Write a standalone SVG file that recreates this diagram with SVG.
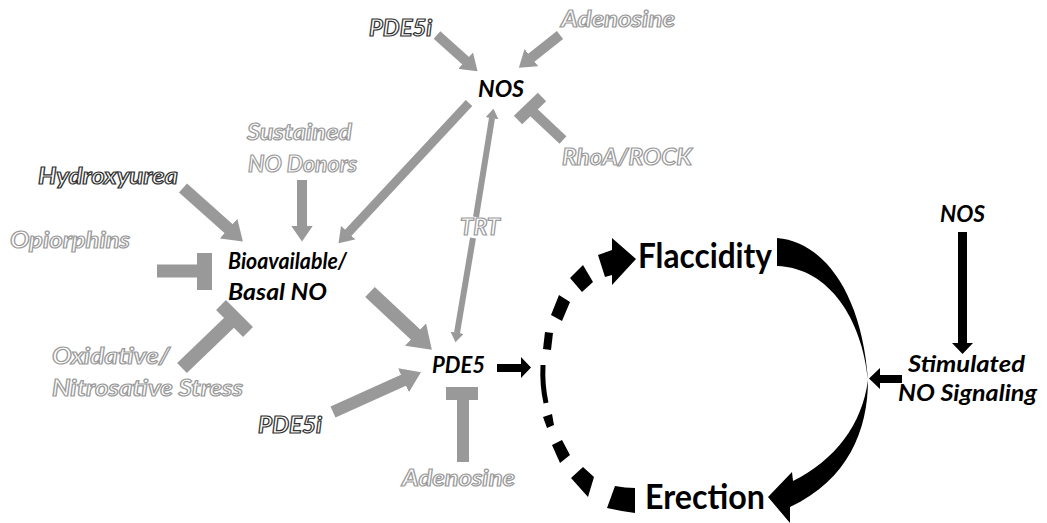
<svg xmlns="http://www.w3.org/2000/svg" width="1047" height="523" viewBox="0 0 1047 523">
<style>
.lbl{font-family:Lato,"Liberation Sans",sans-serif;font-weight:bold;font-style:italic;font-size:23px;fill:#000}
.og{font-family:Lato,"Liberation Sans",sans-serif;font-weight:bold;font-style:italic;font-size:23px;fill:#fff;stroke:#9a9a9a;stroke-width:1.2}
.od{font-family:Lato,"Liberation Sans",sans-serif;font-weight:bold;font-style:italic;font-size:23px;fill:#fff;stroke:#333;stroke-width:1.2}
.big{font-family:Lato,"Liberation Sans",sans-serif;font-weight:bold;font-size:34px;fill:#000}
.ga{stroke:#999;fill:none;marker-end:url(#gh)}
.gt{stroke:#999;fill:none}
.blk{fill:#000}
</style>
<defs>
<marker id="gh" viewBox="0 0 16 22" markerWidth="1.6" markerHeight="2.2" refX="0.5" refY="11" orient="auto-start-reverse" markerUnits="strokeWidth">
<path d="M0,0 L16,11 L0,22 Z" fill="#999"/>
</marker>
</defs>
<rect width="1047" height="523" fill="#fff"/>
<g id="connectors">
<line class="ga" x1="437" y1="35" x2="466" y2="61" stroke-width="10"/>
<line class="ga" x1="560" y1="35" x2="531" y2="58" stroke-width="10"/>
<line class="ga" x1="469" y1="103" x2="348" y2="233" stroke-width="9"/>
<path class="gt" d="M457,333 L473,238 M476,217 L492,118" stroke-width="6" marker-start="url(#gh)" marker-end="url(#gh)"/>
<line class="ga" x1="302" y1="180" x2="302" y2="226" stroke-width="10"/>
<line class="ga" x1="183" y1="188" x2="229" y2="229" stroke-width="12"/>
<line class="ga" x1="370" y1="292" x2="416" y2="335" stroke-width="14"/>
<line class="ga" x1="333" y1="412" x2="404" y2="380" stroke-width="12"/>
<line class="gt" x1="157" y1="271" x2="205" y2="271" stroke-width="13"/>
<line class="gt" x1="204.5" y1="253" x2="204.5" y2="290" stroke-width="15"/>
<line class="gt" x1="182" y1="368" x2="234" y2="318" stroke-width="14"/>
<line class="gt" x1="221" y1="305" x2="248" y2="332" stroke-width="14"/>
<line class="gt" x1="563" y1="140" x2="530" y2="109" stroke-width="10"/>
<line class="gt" x1="518" y1="120" x2="542" y2="97" stroke-width="12"/>
<line class="gt" x1="463" y1="462" x2="463" y2="395" stroke-width="12"/>
<line class="gt" x1="446" y1="393.5" x2="478" y2="393.5" stroke-width="13"/>
<path class="blk" d="M497,364 L521,364 L521,357 L531,367.5 L521,378 L521,372 L497,372 Z"/>
<path class="blk" d="M958,232 L967,232 L967,343 L973,343 L962.5,354 L952,343 L958,343 Z"/>
<path class="blk" d="M902,375 L880,375 L880,368 L869,378.5 L880,389 L880,383 L902,383 Z"/>
<g id="dashed-arc">
<path class="blk" d="M615,486 Q625,488 635,488 L635,513 Q620,511 607,508 Z"/>
<path class="blk" d="M583,467 L594,477 L588,497 L571,478 Z"/>
<path class="blk" d="M552,445 L562,440 L570,455 L560,463 Z"/>
<path class="blk" d="M543,417 L552,414 L554,425 L547,428 Z"/>
<path d="M543,365 Q542,385 546,403" stroke="#000" stroke-width="5" fill="none"/>
<path class="blk" d="M545,332 L553,333 L551,350 L543,349 Z"/>
<path class="blk" d="M551,315 L559,295 L570,302 L562,321 Z"/>
<path class="blk" d="M570,278 L583,265 L593,282 L582,292 Z"/>
<path class="blk" d="M598,255 L612,250 L612,238 L636,259 L612,285 L612,275 L605,277 Z"/>
</g>
<g id="solid-arc">
<path class="blk" d="M777,238 C825,242 862,295 868,380 C862,320 830,268 777,266 Z"/>
<path class="blk" d="M868,380 C868,430 848,480 790,507 L790,523 L768,497 L792,472 L793,481 C835,460 862,425 868,380 Z"/>
</g>
</g>
<g id="n-pde5i-top"><text class="od" x="369" y="36" textLength="63" lengthAdjust="spacingAndGlyphs">PDE5i</text></g>
<g id="n-adenosine-top"><text class="og" x="561" y="27" textLength="114" lengthAdjust="spacingAndGlyphs">Adenosine</text></g>
<g id="n-nos-top"><text class="lbl" x="478" y="97" textLength="46" lengthAdjust="spacingAndGlyphs">NOS</text></g>
<g id="n-sustained"><text class="og" x="247" y="140" textLength="105" lengthAdjust="spacingAndGlyphs">Sustained</text><text class="og" x="248" y="172" textLength="109" lengthAdjust="spacingAndGlyphs">NO Donors</text></g>
<g id="n-hydroxyurea"><text class="od" x="38" y="184" textLength="140" lengthAdjust="spacingAndGlyphs">Hydroxyurea</text></g>
<g id="n-opiorphins"><text class="og" x="10" y="248" textLength="120" lengthAdjust="spacingAndGlyphs">Opiorphins</text></g>
<g id="n-bioavailable"><text class="lbl" x="228" y="269" textLength="119" lengthAdjust="spacingAndGlyphs">Bioavailable/</text><text class="lbl" x="228" y="300" textLength="99" lengthAdjust="spacingAndGlyphs">Basal NO</text></g>
<g id="n-oxidative"><text class="og" x="52" y="364" textLength="118" lengthAdjust="spacingAndGlyphs">Oxidative/</text><text class="og" x="52" y="396" textLength="191" lengthAdjust="spacingAndGlyphs">Nitrosative Stress</text></g>
<g id="n-pde5i-low"><text class="od" x="258" y="433" textLength="64" lengthAdjust="spacingAndGlyphs">PDE5i</text></g>
<g id="n-pde5"><text class="lbl" x="432" y="373" textLength="53" lengthAdjust="spacingAndGlyphs">PDE5</text></g>
<g id="n-adenosine-low"><text class="og" x="402" y="486" textLength="113" lengthAdjust="spacingAndGlyphs">Adenosine</text></g>
<g id="n-trt"><text class="og" x="460" y="235" textLength="40" lengthAdjust="spacingAndGlyphs">TRT</text></g>
<g id="n-rhoa"><text class="og" x="562" y="165" textLength="130" lengthAdjust="spacingAndGlyphs">RhoA/ROCK</text></g>
<g id="n-flaccidity"><text class="big" x="638" y="268" textLength="134" lengthAdjust="spacingAndGlyphs">Flaccidity</text></g>
<g id="n-erection"><text class="big" x="645" y="509" textLength="120" lengthAdjust="spacingAndGlyphs">Erection</text></g>
<g id="n-nos-right"><text class="lbl" x="940" y="222" textLength="45" lengthAdjust="spacingAndGlyphs">NOS</text></g>
<g id="n-stimulated"><text class="lbl" x="908" y="372" textLength="117" lengthAdjust="spacingAndGlyphs">Stimulated</text><text class="lbl" x="898" y="401" textLength="139" lengthAdjust="spacingAndGlyphs">NO Signaling</text></g>
</svg>
